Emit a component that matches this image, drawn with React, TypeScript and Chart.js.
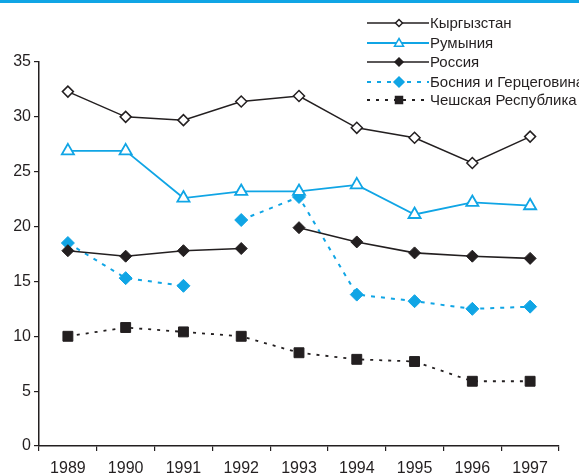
import React, { useEffect, useRef } from "react";
import { Chart, registerables } from "chart.js";

Chart.register(...registerables);

const years = ["1989", "1990", "1991", "1992", "1993", "1994", "1995", "1996", "1997"];
const kyrgyzstan = [32.3, 30.0, 29.7, 31.4, 31.9, 29.0, 28.1, 25.8, 28.2];
const romania = [26.9, 26.9, 22.6, 23.2, 23.2, 23.8, 21.1, 22.2, 21.9];
const russia = [17.8, 17.3, 17.8, 18.0, 19.9, 18.6, 17.6, 17.3, 17.1];
const bosnia = [18.5, 15.3, 14.6, 20.6, 22.7, 13.8, 13.2, 12.5, 12.7];
const czech = [10.0, 10.8, 10.4, 10.0, 8.5, 7.9, 7.7, 5.9, 5.9];

const BLUE = "#10a5e5";
const BLACK = "#231f20";
const FONT = "'Liberation Sans', Arial, sans-serif";

const legendPlugin = {
  id: "customLegend",
  afterDraw(chart: any) {
    const ctx = chart.ctx;
    ctx.save();
    ctx.fillStyle = BLUE;
    ctx.fillRect(0, 0, chart.width, 3);
    const rows = [23, 43, 62, 82, 100];
    const sizes = [3.5, 4.5, 4, 5, 3.5];
    const x0 = 367;
    const x1 = 429;
    const mx = 399;
    chart.data.datasets.forEach((ds: any, i: number) => {
      const y = rows[i];
      ctx.strokeStyle = ds.borderColor;
      ctx.lineWidth = ds.borderWidth;
      ctx.setLineDash(ds.borderDash || []);
      ctx.beginPath();
      ctx.moveTo(x0, y);
      ctx.lineTo(x1, y);
      ctx.stroke();
      ctx.setLineDash([]);
      const r = sizes[i];
      ctx.fillStyle = ds.pointBackgroundColor;
      ctx.strokeStyle = ds.pointBorderColor;
      ctx.lineWidth = 1.5;
      ctx.beginPath();
      if (ds.pointStyle === "rectRot") {
        ctx.moveTo(mx, y - r);
        ctx.lineTo(mx + r, y);
        ctx.lineTo(mx, y + r);
        ctx.lineTo(mx - r, y);
        ctx.closePath();
      } else if (ds.pointStyle === "triangle") {
        ctx.moveTo(mx, y - r);
        ctx.lineTo(mx + r, y + r * 0.7);
        ctx.lineTo(mx - r, y + r * 0.7);
        ctx.closePath();
      } else {
        ctx.rect(mx - r, y - r, 2 * r, 2 * r);
      }
      ctx.fill();
      ctx.stroke();
      ctx.fillStyle = BLACK;
      ctx.font = "15px " + FONT;
      ctx.textBaseline = "middle";
      ctx.textAlign = "left";
      ctx.fillText(ds.label, x1 + 1, y + 1);
    });
    ctx.restore();
  },
};

export default function App() {
  const ref = useRef<HTMLCanvasElement>(null);
  useEffect(() => {
    document.body.style.margin = "0";
    const gap = (idx: number, color: string) => (c: any) =>
      c.p0DataIndex === idx ? "rgba(0,0,0,0)" : color;
    const chart = new Chart(ref.current!, {
      type: "line",
      data: {
        labels: years,
        datasets: [
          {
            label: "Кыргызстан",
            data: kyrgyzstan,
            borderColor: BLACK,
            borderWidth: 1.5,
            pointStyle: "rectRot",
            pointRadius: 5.5,
            pointBorderWidth: 1.5,
            pointBackgroundColor: "#ffffff",
            pointBorderColor: BLACK,
          },
          {
            label: "Румыния",
            data: romania,
            borderColor: BLUE,
            borderWidth: 1.8,
            pointStyle: "triangle",
            pointRadius: 7,
            pointBorderWidth: 1.8,
            pointBackgroundColor: "#ffffff",
            pointBorderColor: BLUE,
          },
          {
            label: "Россия",
            data: russia,
            borderColor: BLACK,
            borderWidth: 1.6,
            pointStyle: "rectRot",
            pointRadius: 6,
            pointBorderWidth: 1,
            pointBackgroundColor: BLACK,
            pointBorderColor: BLACK,
            segment: { borderColor: gap(3, BLACK) },
          } as any,
          {
            label: "Босния и Герцеговина",
            data: bosnia,
            borderColor: BLUE,
            borderWidth: 2,
            borderDash: [4, 6],
            pointStyle: "rectRot",
            pointRadius: 6.5,
            pointBorderWidth: 1,
            pointBackgroundColor: BLUE,
            pointBorderColor: BLUE,
            segment: { borderColor: gap(2, BLUE) },
          } as any,
          {
            label: "Чешская Республика",
            data: czech,
            borderColor: BLACK,
            borderWidth: 1.8,
            borderDash: [3, 6],
            pointStyle: "rect",
            pointRadius: 7,
            pointBorderWidth: 1,
            pointBackgroundColor: BLACK,
            pointBorderColor: BLACK,
          },
        ],
      },
      options: {
        animation: false,
        responsive: false,
        maintainAspectRatio: false,
        layout: { padding: { top: 62, right: 20, left: 0, bottom: 0 } },
        plugins: { legend: { display: false }, tooltip: { enabled: false } },
        scales: {
          x: {
            type: "category",
            offset: true,
            grid: {
              offset: true,
              drawOnChartArea: false,
              drawTicks: true,
              tickLength: 5,
              color: BLACK,
              lineWidth: 1.2,
            },
            border: { display: true, color: BLACK, width: 1.5 },
            ticks: { color: BLACK, font: { family: FONT, size: 16 }, padding: 8, maxRotation: 0 },
            afterFit: (s: any) => {
              s.height = 29;
            },
          },
          y: {
            min: 0,
            max: 35,
            ticks: { stepSize: 5, color: BLACK, font: { family: FONT, size: 16 }, padding: 3 },
            grid: {
              drawOnChartArea: false,
              drawTicks: true,
              tickLength: 5,
              color: BLACK,
              lineWidth: 1.2,
            },
            border: { display: true, color: BLACK, width: 1.5 },
            afterFit: (s: any) => {
              s.width = 39;
            },
          },
        },
      },
      plugins: [legendPlugin],
    });
    return () => chart.destroy();
  }, []);
  return (
    <div style={{ width: 579, height: 475 }}>
      <canvas ref={ref} width={579} height={475} style={{ display: "block" }} />
    </div>
  );
}
